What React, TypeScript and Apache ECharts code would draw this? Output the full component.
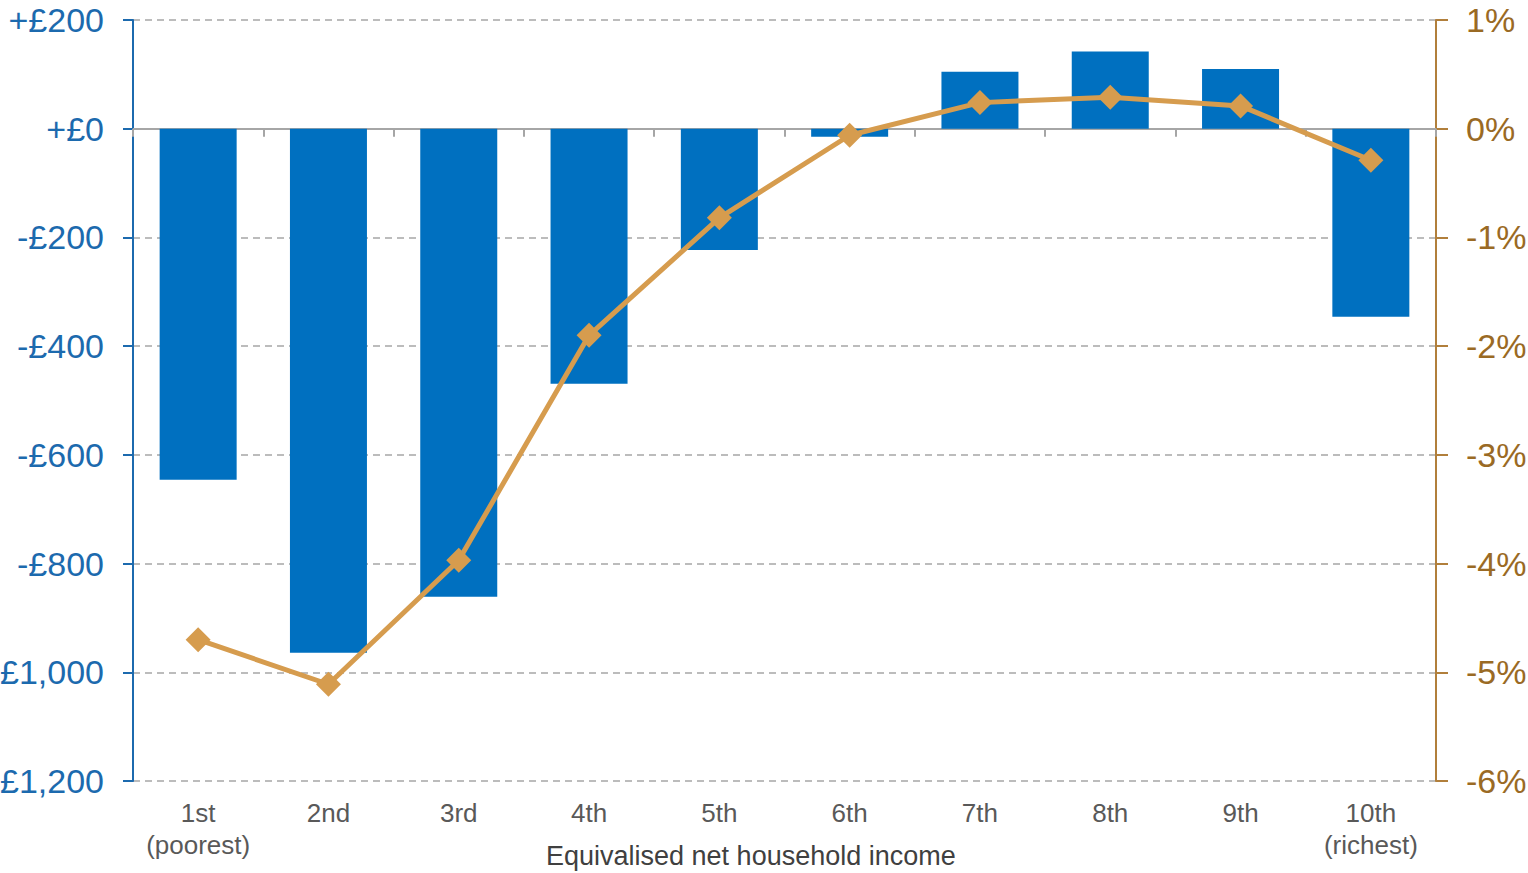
import React, { useEffect, useRef } from "react";
import * as echarts from "echarts";

const categories = ["1st\n(poorest)", "2nd", "3rd", "4th", "5th", "6th", "7th", "8th", "9th", "10th\n(richest)"];
const cashChange = [-646, -964, -861, -469, -223, -15, 105, 142, 110, -346];
const pctChange = [-4.7, -5.11, -3.97, -1.9, -0.82, -0.06, 0.24, 0.29, 0.21, -0.29];
const xAxisTitle = "Equivalised net household income";

const FONT = "'Liberation Sans', Arial, sans-serif";

function fmtPounds(v: number): string {
  const abs = Math.abs(v).toLocaleString("en-GB");
  return (v < 0 ? "-" : "+") + "£" + abs;
}

export default function App() {
  const ref = useRef<HTMLDivElement>(null);
  useEffect(() => {
    if (!ref.current) return;
    const chart = echarts.init(ref.current, undefined, { renderer: "svg" });
    chart.setOption({
      animation: false,
      backgroundColor: "#ffffff",
      grid: {
        left: 133,
        right: 92,
        top: 20,
        bottom: 92,
        containLabel: false,
        outerBoundsMode: "none",
      },
      xAxis: [
        {
          type: "category",
          data: categories,
          position: "bottom",
          axisLine: { show: false, onZero: false },
          axisTick: { show: false },
          axisLabel: {
            interval: 0,
            color: "#595959",
            fontFamily: FONT,
            fontSize: 26,
            lineHeight: 32,
            margin: 16,
          },
        },
        {
          type: "category",
          data: categories,
          position: "bottom",
          axisLine: { show: true, onZero: true, lineStyle: { color: "#a6a6a6", width: 2 } },
          axisTick: { show: true, interval: 0, length: 8, lineStyle: { color: "#a6a6a6", width: 2 } },
          axisLabel: { show: false },
        },
      ],
      yAxis: [
        {
          type: "value",
          min: -1200,
          max: 200,
          interval: 200,
          axisLine: { show: true, lineStyle: { color: "#1c6aae", width: 2 } },
          axisTick: { show: true, length: 10, lineStyle: { color: "#1c6aae", width: 2 } },
          splitLine: { show: true, lineStyle: { color: "#a6a6a6", type: [7, 5], width: 1.5 } },
          axisLabel: {
            color: "#1c6aae",
            fontFamily: FONT,
            fontSize: 34,
            margin: 29,
            formatter: (v: number) => fmtPounds(v),
          },
        },
        {
          type: "value",
          min: -6,
          max: 1,
          interval: 1,
          position: "right",
          axisLine: { show: true, lineStyle: { color: "#b17f3b", width: 2 } },
          axisTick: { show: true, length: 12, lineStyle: { color: "#b17f3b", width: 2 } },
          splitLine: { show: false },
          axisLabel: {
            color: "#9a6a24",
            fontFamily: FONT,
            fontSize: 34,
            margin: 30,
            formatter: (v: number) => v + "%",
          },
        },
      ],
      graphic: [
        {
          type: "text",
          left: 546,
          top: 842,
          style: {
            text: xAxisTitle,
            fill: "#404040",
            font: `27px ${FONT}`,
          },
        },
      ],
      series: [
        {
          type: "bar",
          xAxisIndex: 0,
          yAxisIndex: 0,
          data: cashChange,
          barWidth: 77,
          itemStyle: { color: "#0070c0" },
          z: 2,
        },
        {
          type: "line",
          xAxisIndex: 0,
          yAxisIndex: 1,
          data: pctChange,
          symbol: "diamond",
          symbolSize: 25,
          lineStyle: { color: "#d69c4e", width: 5 },
          itemStyle: { color: "#d69c4e" },
          z: 5,
        },
      ],
    });
    return () => chart.dispose();
  }, []);
  return (
    <div
      ref={ref}
      style={{ position: "fixed", left: 0, top: 0, width: 1528, height: 873 }}
    />
  );
}
